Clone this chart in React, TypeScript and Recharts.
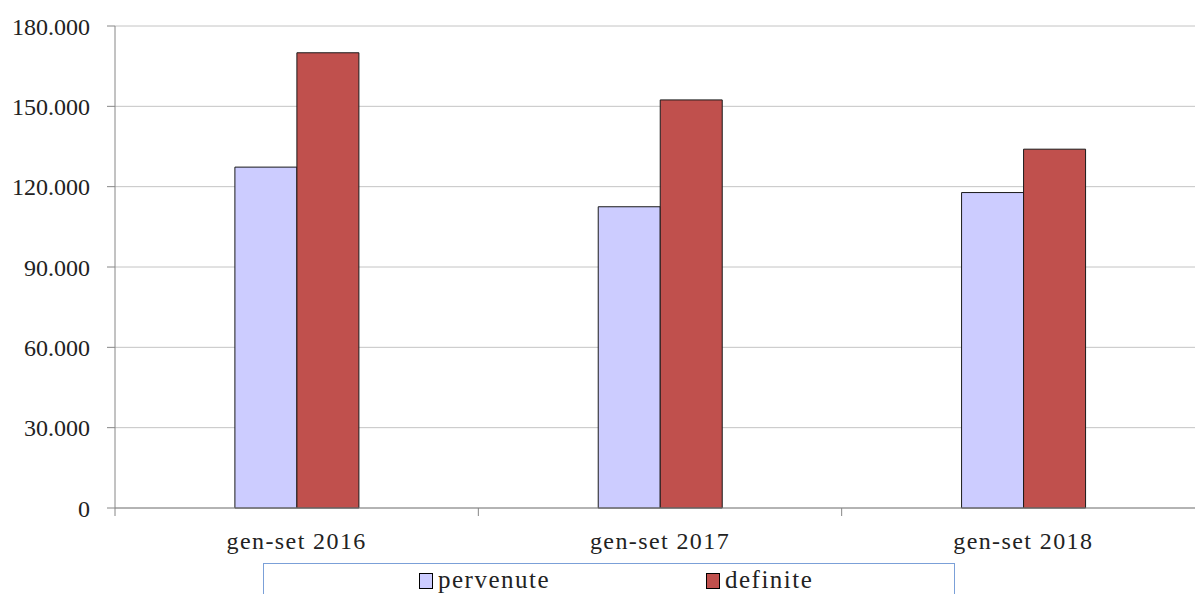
import { BarChart, Bar, XAxis, YAxis, CartesianGrid, Legend } from 'recharts';

const categories = ['gen-set 2016', 'gen-set 2017', 'gen-set 2018'];
const seriesNames = ['pervenute', 'definite'];
const pervenute = [127300, 112500, 117800];
const definite = [170000, 152400, 134000];
const yTicks = [0, 30000, 60000, 90000, 120000, 150000, 180000];

const data = categories.map((name, i) => ({
  name,
  pervenute: pervenute[i],
  definite: definite[i],
}));

const FONT = '"Liberation Serif", "Times New Roman", serif';
const AXIS = '#868686';

const fmt = (v: number) => (v === 0 ? '0' : v.toLocaleString('de-DE'));

function XTick(props: any) {
  const { x, y, payload, index, visibleTicksCount } = props;
  const half = payload?.offset ?? 181.7;
  const last = index === (visibleTicksCount ?? categories.length) - 1;
  return (
    <g>
      <line x1={x - half} x2={x - half} y1={y} y2={y + 8} stroke={AXIS} />
      {last && <line x1={x + half} x2={x + half} y1={y} y2={y + 8} stroke={AXIS} />}
      <text x={x} y={y + 41} textAnchor="middle" fontFamily={FONT} fontSize={24} letterSpacing={1.4} fill="#222">
        {payload.value}
      </text>
    </g>
  );
}

const markerLeft = [155, 442];

function LegendBox({ payload }: any) {
  const items = seriesNames.map((n) => (payload || []).find((p: any) => p.value === n)).filter(Boolean);
  return (
    <div
      style={{
        position: 'relative',
        width: 692,
        height: 40,
        border: '1px solid #7ba0d8',
        borderBottom: 'none',
        boxSizing: 'border-box',
        fontFamily: FONT,
        fontSize: 25,
        letterSpacing: 1.5,
        color: '#222',
      }}
    >
      {items.map((p: any, i: number) => (
        <div key={p.value} style={{ position: 'absolute', left: markerLeft[i], top: 2, display: 'flex', alignItems: 'center' }}>
          <span
            style={{
              display: 'inline-block',
              width: 12,
              height: 14,
              background: p.color,
              border: '1px solid #000',
              marginRight: 5,
              marginTop: 2,
            }}
          />
          <span>{p.value}</span>
        </div>
      ))}
    </div>
  );
}

export default function App() {
  return (
    <div style={{ position: 'absolute', left: 0, top: 0, width: 1195, height: 594, overflow: 'hidden', background: '#fff' }}>
      <BarChart
        width={1210}
        height={594}
        data={data}
        margin={{ top: 26, right: 5, left: 0, bottom: 0 }}
        barGap={0}
        barCategoryGap="33%"
      >
        <CartesianGrid vertical={false} stroke="#c4c4c4" />
        <XAxis
          dataKey="name"
          height={86}
          tickSize={0}
          tickMargin={0}
          tickLine={false}
          axisLine={{ stroke: AXIS }}
          tick={<XTick />}
          interval={0}
        />
        <YAxis
          width={115}
          domain={[0, 180000]}
          ticks={yTicks}
          tickFormatter={fmt}
          tickSize={8}
          tickMargin={17}
          tickLine={{ stroke: AXIS }}
          axisLine={{ stroke: AXIS }}
          tick={{ fontFamily: FONT, fontSize: 24, fill: '#222' }}
          interval={0}
        />
        <Legend
          layout="horizontal"
          verticalAlign="middle"
          align="center"
          content={<LegendBox />}
          wrapperStyle={{ position: 'absolute', left: 263, top: 563, width: 692, height: 40 }}
        />
        <Bar dataKey="pervenute" fill="#ccccff" stroke="#1a1a1a" strokeWidth={1} isAnimationActive={false} />
        <Bar dataKey="definite" fill="#c0504d" stroke="#1a1a1a" strokeWidth={1} isAnimationActive={false} />
      </BarChart>
    </div>
  );
}
